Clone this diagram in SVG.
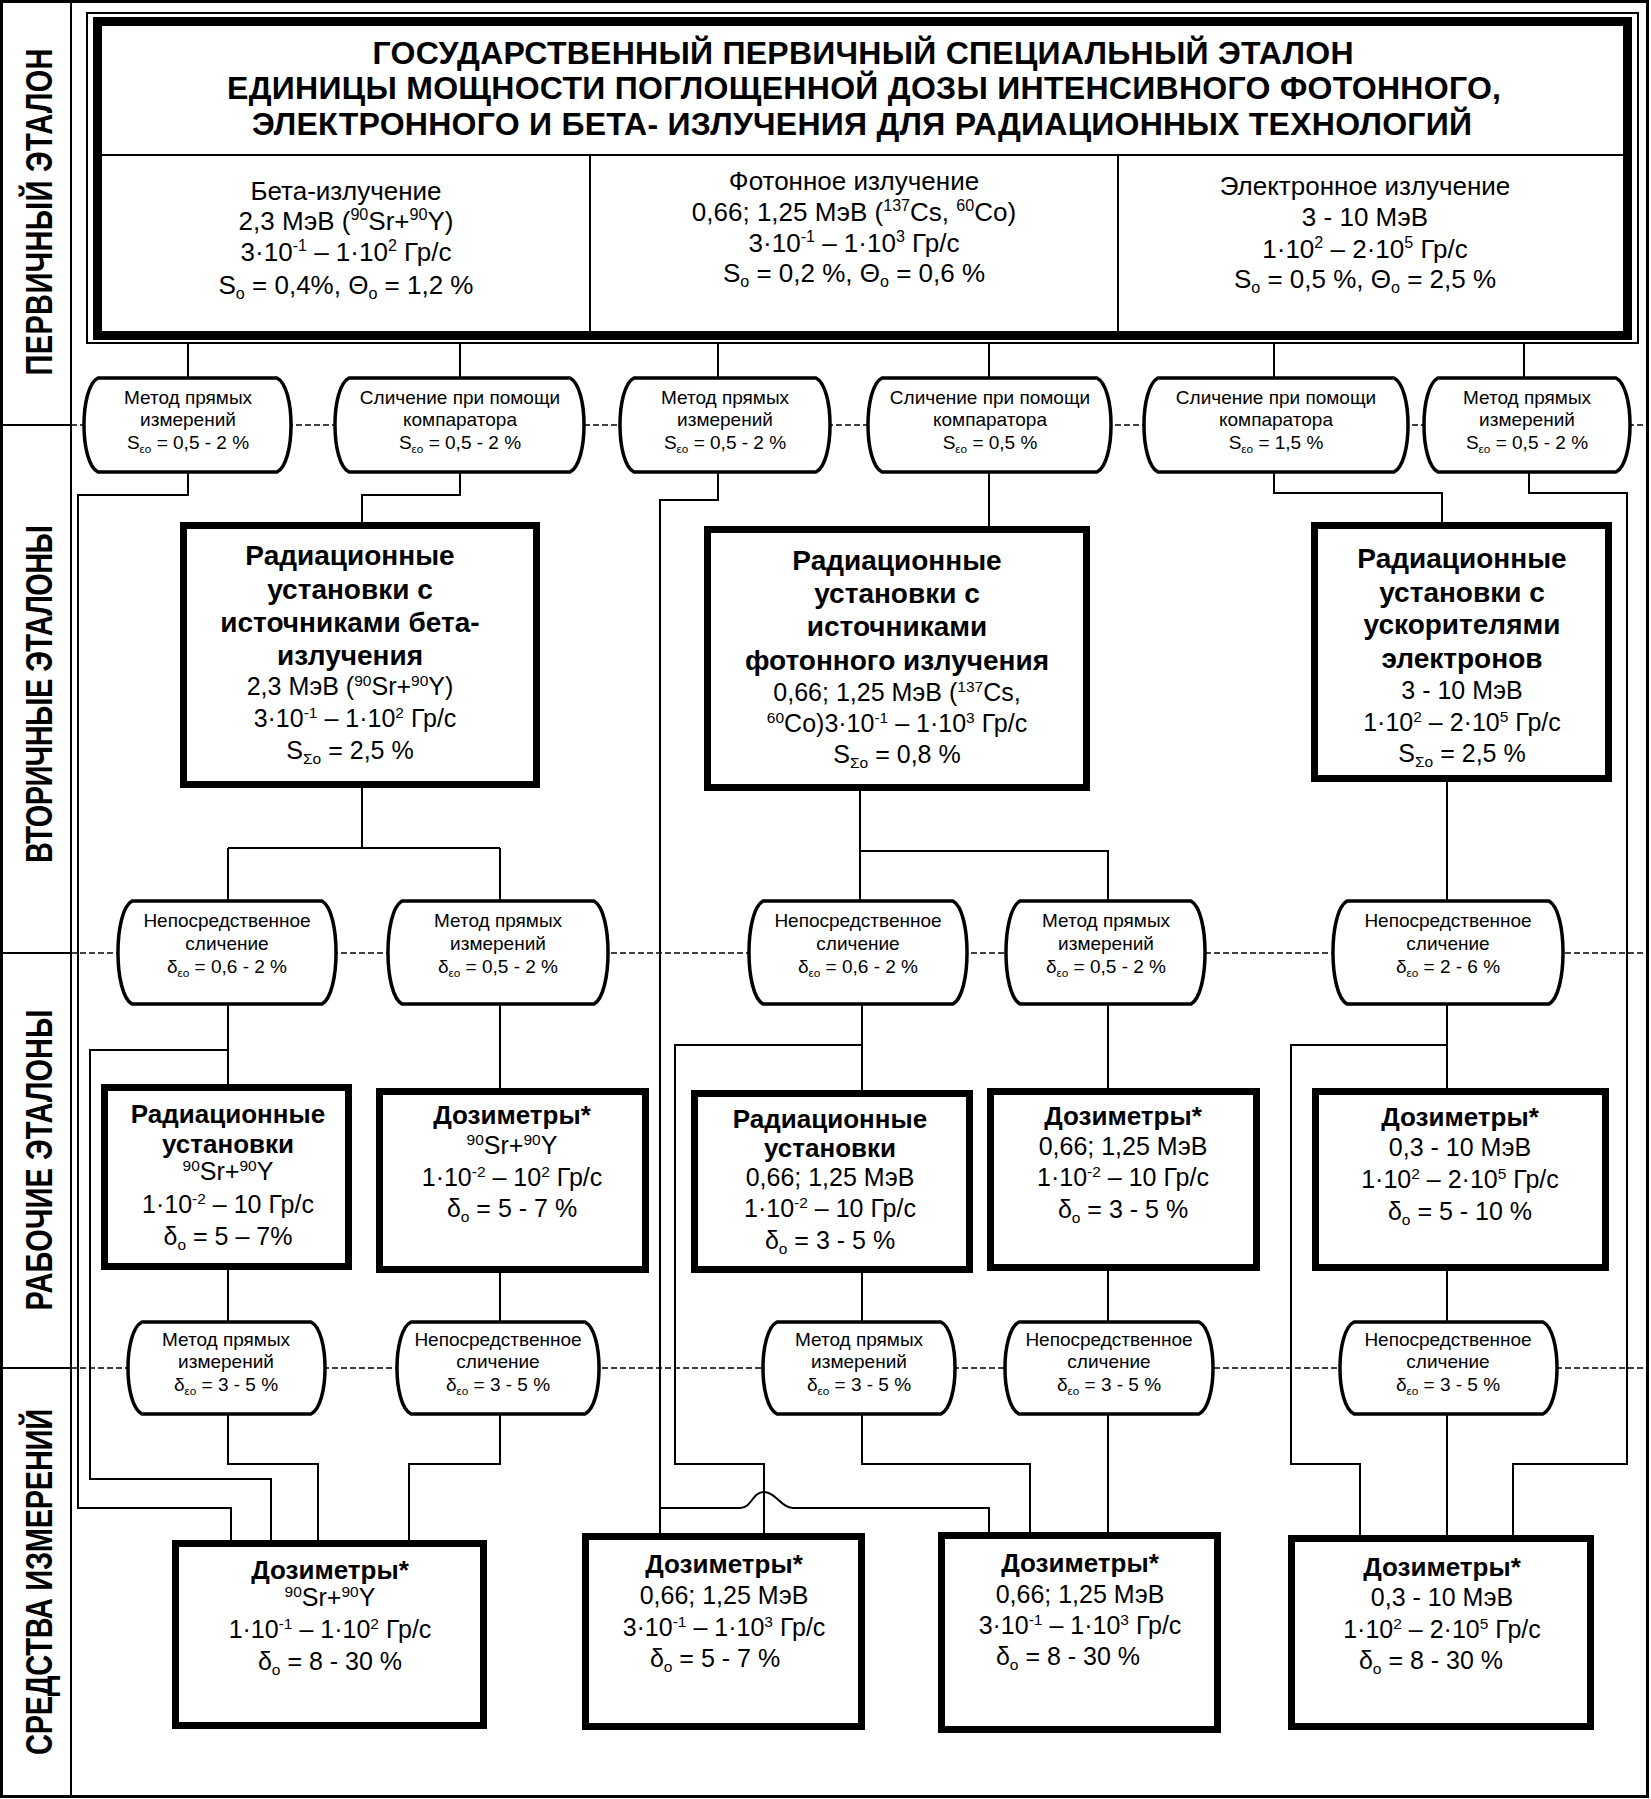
<svg xmlns="http://www.w3.org/2000/svg" width="1651" height="1799" viewBox="0 0 1651 1799">
<style>
text{font-family:"Liberation Sans",Arial,sans-serif;fill:#000}
.c{text-anchor:middle}
.b{font-weight:bold}
.tt{font-size:32px;font-weight:bold;text-anchor:middle}
.ln{font-size:29px;font-weight:bold;text-anchor:middle}
.col{font-size:26px;text-anchor:middle}
.o{font-size:19px;text-anchor:middle}
.h1{font-size:28px;font-weight:bold;text-anchor:middle}
.h2{font-size:26px;font-weight:bold;text-anchor:middle}
.r{font-size:25px;text-anchor:middle}
.sup{font-size:62%;baseline-shift:0.6em}
.sub{font-size:62%;baseline-shift:-0.3em}
.box{fill:#fff;stroke:#000;stroke-width:7}
.ov{fill:#fff;stroke:#000;stroke-width:3.5;stroke-linejoin:round}
.cn{fill:none;stroke:#000;stroke-width:2}
.lane{stroke:#000;stroke-width:1.5;stroke-dasharray:6 3}
.fr{fill:none;stroke:#000}
</style>

<g id="frame">
<rect class="fr" x="1.5" y="1.5" width="1646" height="1795" stroke-width="3"/>
<line x1="71" y1="0" x2="71" y2="1797" stroke="#000" stroke-width="2"/>
<line x1="0" y1="425" x2="71" y2="425" stroke="#000" stroke-width="2"/>
<line x1="0" y1="953" x2="71" y2="953" stroke="#000" stroke-width="2"/>
<line x1="0" y1="1368" x2="71" y2="1368" stroke="#000" stroke-width="2"/>
<line class="lane" x1="71" y1="425" x2="1647" y2="425"/>
<line class="lane" x1="71" y1="953" x2="1647" y2="953"/>
<line class="lane" x1="71" y1="1368" x2="1647" y2="1368"/>
<text class="ln" transform="translate(52,212) rotate(-90) scale(1,1.3)" textLength="327">ПЕРВИЧНЫЙ ЭТАЛОН</text>
<text class="ln" transform="translate(52,694) rotate(-90) scale(1,1.3)" textLength="338">ВТОРИЧНЫЕ ЭТАЛОНЫ</text>
<text class="ln" transform="translate(52,1160) rotate(-90) scale(1,1.3)" textLength="301">РАБОЧИЕ ЭТАЛОНЫ</text>
<text class="ln" transform="translate(52,1582) rotate(-90) scale(1,1.3)" textLength="346">СРЕДСТВА ИЗМЕРЕНИЙ</text>
</g>

<g id="connectors" class="cn">
<path d="M188 343V378M460 343V378M718 343V378M989 343V378M1274 343V378M1524 343V378"/>
<path d="M188 472V495H78V1508H231V1540"/>
<path d="M460 472V495H362V522"/>
<path d="M718 472V500H660V1533"/>
<path d="M660 1508H740C752 1508 752 1492 764 1492C776 1492 781 1508 793 1508H989V1533"/>
<path d="M989 472V526"/>
<path d="M1274 472V493H1442V522"/>
<path d="M1529 472V493H1627V1464H1513V1535"/>
<path d="M362 788V848M228 848H500M228 848V901M500 848V901"/>
<path d="M860 791V851H1108V901M860 851V901"/>
<path d="M1447 782V901"/>
<path d="M228 1004V1084M228 1050H90V1479H271V1540"/>
<path d="M500 1004V1088"/>
<path d="M862 1004V1090M862 1045H675V1464H764V1533"/>
<path d="M1108 1004V1088"/>
<path d="M1447 1004V1088M1447 1045H1291V1464H1360V1535"/>
<path d="M228 1270V1322M500 1273V1322M862 1273V1322M1108 1271V1322M1447 1271V1322"/>
<path d="M228 1414V1464H318V1540"/>
<path d="M500 1414V1464H409V1540"/>
<path d="M862 1414V1464H1030V1533"/>
<path d="M1108 1414V1533"/>
<path d="M1447 1414V1535"/>
</g>

<g id="primary">
<rect x="87" y="13" width="1551" height="330" fill="#fff" stroke="#000" stroke-width="2"/>
<rect x="97.5" y="21.5" width="1530" height="314" fill="none" stroke="#000" stroke-width="9"/>
<line x1="102" y1="155" x2="1623" y2="155" stroke="#000" stroke-width="2"/>
<line x1="590" y1="155" x2="590" y2="331" stroke="#000" stroke-width="2"/>
<line x1="1118" y1="155" x2="1118" y2="331" stroke="#000" stroke-width="2"/>
<text class="tt" x="863" y="64" textLength="981">ГОСУДАРСТВЕННЫЙ ПЕРВИЧНЫЙ СПЕЦИАЛЬНЫЙ ЭТАЛОН</text>
<text class="tt" x="864" y="99" textLength="1274">ЕДИНИЦЫ МОЩНОСТИ ПОГЛОЩЕННОЙ ДОЗЫ ИНТЕНСИВНОГО ФОТОННОГО,</text>
<text class="tt" x="862" y="135" textLength="1220">ЭЛЕКТРОННОГО И БЕТА- ИЗЛУЧЕНИЯ ДЛЯ РАДИАЦИОННЫХ ТЕХНОЛОГИЙ</text>
<text class="col" x="346" y="200">Бета-излучение</text>
<text class="col" x="346" y="230">2,3 МэВ (<tspan class="sup">90</tspan>Sr+<tspan class="sup">90</tspan>Y)</text>
<text class="col" x="346" y="261">3·10<tspan class="sup">-1</tspan> – 1·10<tspan class="sup">2</tspan> Гр/с</text>
<text class="col" x="346" y="294">S<tspan class="sub">о</tspan> = 0,4%, Θ<tspan class="sub">о</tspan> = 1,2 %</text>
<text class="col" x="854" y="190">Фотонное излучение</text>
<text class="col" x="854" y="221">0,66; 1,25 МэВ (<tspan class="sup">137</tspan>Cs, <tspan class="sup">60</tspan>Co)</text>
<text class="col" x="854" y="252">3·10<tspan class="sup">-1</tspan> – 1·10<tspan class="sup">3</tspan> Гр/с</text>
<text class="col" x="854" y="282">S<tspan class="sub">о</tspan> = 0,2 %, Θ<tspan class="sub">о</tspan> = 0,6 %</text>
<text class="col" x="1365" y="195">Электронное излучение</text>
<text class="col" x="1365" y="226">3 - 10 МэВ</text>
<text class="col" x="1365" y="258">1·10<tspan class="sup">2</tspan> – 2·10<tspan class="sup">5</tspan> Гр/с</text>
<text class="col" x="1365" y="288">S<tspan class="sub">о</tspan> = 0,5 %, Θ<tspan class="sub">о</tspan> = 2,5 %</text>
</g>

<g id="m1">
<path class="ov" d="M98 378H277C295.7 387.4 295.7 462.6 277 472H98C79.3 462.6 79.3 387.4 98 378Z"/>
<text class="o" x="188" y="404">Метод прямых</text><text class="o" x="188" y="426">измерений</text>
<text class="o" x="188" y="449">S<tspan class="sub">εо</tspan> = 0,5 - 2 %</text>
</g>
<g id="m2">
<path class="ov" d="M349 378H570C588.7 387.4 588.7 462.6 570 472H349C330.3 462.6 330.3 387.4 349 378Z"/>
<text class="o" x="460" y="404">Сличение при помощи</text><text class="o" x="460" y="426">компаратора</text>
<text class="o" x="460" y="449">S<tspan class="sub">εо</tspan> = 0,5 - 2 %</text>
</g>
<g id="m3">
<path class="ov" d="M634 378H816C834.7 387.4 834.7 462.6 816 472H634C615.3 462.6 615.3 387.4 634 378Z"/>
<text class="o" x="725" y="404">Метод прямых</text><text class="o" x="725" y="426">измерений</text>
<text class="o" x="725" y="449">S<tspan class="sub">εо</tspan> = 0,5 - 2 %</text>
</g>
<g id="m4">
<path class="ov" d="M882 378H1097C1115.7 387.4 1115.7 462.6 1097 472H882C863.3 462.6 863.3 387.4 882 378Z"/>
<text class="o" x="990" y="404">Сличение при помощи</text><text class="o" x="990" y="426">компаратора</text>
<text class="o" x="990" y="449">S<tspan class="sub">εо</tspan> = 0,5 %</text>
</g>
<g id="m5">
<path class="ov" d="M1158 378H1394C1412.7 387.4 1412.7 462.6 1394 472H1158C1139.3 462.6 1139.3 387.4 1158 378Z"/>
<text class="o" x="1276" y="404">Сличение при помощи</text><text class="o" x="1276" y="426">компаратора</text>
<text class="o" x="1276" y="449">S<tspan class="sub">εо</tspan> = 1,5 %</text>
</g>
<g id="m6">
<path class="ov" d="M1438 378H1616C1634.7 387.4 1634.7 462.6 1616 472H1438C1419.3 462.6 1419.3 387.4 1438 378Z"/>
<text class="o" x="1527" y="404">Метод прямых</text><text class="o" x="1527" y="426">измерений</text>
<text class="o" x="1527" y="449">S<tspan class="sub">εо</tspan> = 0,5 - 2 %</text>
</g>

<g id="s1">
<rect class="box" x="183.5" y="525.5" width="353" height="259"/>
<text class="h1" x="350" y="565">Радиационные</text>
<text class="h1" x="350" y="599">установки с</text>
<text class="h1" x="350" y="632">источниками бета-</text>
<text class="h1" x="350" y="665">излучения</text>
<text class="r" x="350" y="695">2,3 МэВ (<tspan class="sup">90</tspan>Sr+<tspan class="sup">90</tspan>Y)</text>
<text class="r" x="355" y="727">3·10<tspan class="sup">-1</tspan> – 1·10<tspan class="sup">2</tspan> Гр/с</text>
<text class="r" x="350" y="759">S<tspan class="sub">Σо</tspan> = 2,5 %</text>
</g>
<g id="s2">
<rect class="box" x="707.5" y="529.5" width="379" height="258"/>
<text class="h1" x="897" y="570">Радиационные</text>
<text class="h1" x="897" y="603">установки с</text>
<text class="h1" x="897" y="636">источниками</text>
<text class="h1" x="897" y="670">фотонного излучения</text>
<text class="r" x="897" y="701">0,66; 1,25 МэВ (<tspan class="sup">137</tspan>Cs,</text>
<text class="r" x="897" y="732"><tspan class="sup">60</tspan>Co)3·10<tspan class="sup">-1</tspan> – 1·10<tspan class="sup">3</tspan> Гр/с</text>
<text class="r" x="897" y="763">S<tspan class="sub">Σо</tspan> = 0,8 %</text>
</g>
<g id="s3">
<rect class="box" x="1314.5" y="525.5" width="294" height="253"/>
<text class="h1" x="1462" y="568">Радиационные</text>
<text class="h1" x="1462" y="602">установки с</text>
<text class="h1" x="1462" y="634">ускорителями</text>
<text class="h1" x="1462" y="668">электронов</text>
<text class="r" x="1462" y="699">3 - 10 МэВ</text>
<text class="r" x="1462" y="731">1·10<tspan class="sup">2</tspan> – 2·10<tspan class="sup">5</tspan> Гр/с</text>
<text class="r" x="1462" y="762">S<tspan class="sub">Σо</tspan> = 2,5 %</text>
</g>

<g id="a">
<path class="ov" d="M132 901H322C340.7 911.3 340.7 993.7 322 1004H132C113.3 993.7 113.3 911.3 132 901Z"/>
<text class="o" x="227" y="927">Непосредственное</text><text class="o" x="227" y="950">сличение</text>
<text class="o" x="227" y="973">δ<tspan class="sub">εо</tspan> = 0,6 - 2 %</text>
</g>
<g id="bm">
<path class="ov" d="M402 901H594C612.7 911.3 612.7 993.7 594 1004H402C383.3 993.7 383.3 911.3 402 901Z"/>
<text class="o" x="498" y="927">Метод прямых</text><text class="o" x="498" y="950">измерений</text>
<text class="o" x="498" y="973">δ<tspan class="sub">εо</tspan> = 0,5 - 2 %</text>
</g>
<g id="cm">
<path class="ov" d="M763 901H953C971.7 911.3 971.7 993.7 953 1004H763C744.3 993.7 744.3 911.3 763 901Z"/>
<text class="o" x="858" y="927">Непосредственное</text><text class="o" x="858" y="950">сличение</text>
<text class="o" x="858" y="973">δ<tspan class="sub">εо</tspan> = 0,6 - 2 %</text>
</g>
<g id="dm">
<path class="ov" d="M1020 901H1191C1209.7 911.3 1209.7 993.7 1191 1004H1020C1001.3 993.7 1001.3 911.3 1020 901Z"/>
<text class="o" x="1106" y="927">Метод прямых</text><text class="o" x="1106" y="950">измерений</text>
<text class="o" x="1106" y="973">δ<tspan class="sub">εо</tspan> = 0,5 - 2 %</text>
</g>
<g id="em">
<path class="ov" d="M1347 901H1549C1567.7 911.3 1567.7 993.7 1549 1004H1347C1328.3 993.7 1328.3 911.3 1347 901Z"/>
<text class="o" x="1448" y="927">Непосредственное</text><text class="o" x="1448" y="950">сличение</text>
<text class="o" x="1448" y="973">δ<tspan class="sub">εо</tspan> = 2 - 6 %</text>
</g>

<g id="w1">
<rect class="box" x="104.5" y="1087.5" width="244" height="179"/>
<text class="h2" x="228" y="1123">Радиационные</text>
<text class="h2" x="228" y="1153">установки</text>
<text class="r" x="228" y="1180"><tspan class="sup">90</tspan>Sr+<tspan class="sup">90</tspan>Y</text>
<text class="r" x="228" y="1213">1·10<tspan class="sup">-2</tspan> – 10 Гр/с</text>
<text class="r" x="228" y="1245">δ<tspan class="sub">о</tspan> = 5 – 7%</text>
</g>
<g id="w2">
<rect class="box" x="379.5" y="1091.5" width="266" height="178"/>
<text class="h2" x="512" y="1124">Дозиметры*</text>
<text class="r" x="512" y="1154"><tspan class="sup">90</tspan>Sr+<tspan class="sup">90</tspan>Y</text>
<text class="r" x="512" y="1186">1·10<tspan class="sup">-2</tspan> – 10<tspan class="sup">2</tspan> Гр/с</text>
<text class="r" x="512" y="1217">δ<tspan class="sub">о</tspan> = 5 - 7 %</text>
</g>
<g id="w3">
<rect class="box" x="694.5" y="1093.5" width="275" height="176"/>
<text class="h2" x="830" y="1128">Радиационные</text>
<text class="h2" x="830" y="1157">установки</text>
<text class="r" x="830" y="1186">0,66; 1,25 МэВ</text>
<text class="r" x="830" y="1217">1·10<tspan class="sup">-2</tspan> – 10 Гр/с</text>
<text class="r" x="830" y="1249">δ<tspan class="sub">о</tspan> = 3 - 5 %</text>
</g>
<g id="w4">
<rect class="box" x="990.5" y="1091.5" width="266" height="176"/>
<text class="h2" x="1123" y="1125">Дозиметры*</text>
<text class="r" x="1123" y="1155">0,66; 1,25 МэВ</text>
<text class="r" x="1123" y="1186">1·10<tspan class="sup">-2</tspan> – 10 Гр/с</text>
<text class="r" x="1123" y="1218">δ<tspan class="sub">о</tspan> = 3 - 5 %</text>
</g>
<g id="w5">
<rect class="box" x="1315.5" y="1091.5" width="290" height="176"/>
<text class="h2" x="1460" y="1126">Дозиметры*</text>
<text class="r" x="1460" y="1156">0,3 - 10 МэВ</text>
<text class="r" x="1460" y="1188">1·10<tspan class="sup">2</tspan> – 2·10<tspan class="sup">5</tspan> Гр/с</text>
<text class="r" x="1460" y="1220">δ<tspan class="sub">о</tspan> = 5 - 10 %</text>
</g>

<g id="f1">
<path class="ov" d="M142 1322H311C329.7 1331.2 329.7 1404.8 311 1414H142C123.3 1404.8 123.3 1331.2 142 1322Z"/>
<text class="o" x="226" y="1346">Метод прямых</text><text class="o" x="226" y="1368">измерений</text>
<text class="o" x="226" y="1391">δ<tspan class="sub">εо</tspan> = 3 - 5 %</text>
</g>
<g id="f2">
<path class="ov" d="M411 1322H585C603.7 1331.2 603.7 1404.8 585 1414H411C392.3 1404.8 392.3 1331.2 411 1322Z"/>
<text class="o" x="498" y="1346">Непосредственное</text><text class="o" x="498" y="1368">сличение</text>
<text class="o" x="498" y="1391">δ<tspan class="sub">εо</tspan> = 3 - 5 %</text>
</g>
<g id="f3">
<path class="ov" d="M777 1322H941C959.7 1331.2 959.7 1404.8 941 1414H777C758.3 1404.8 758.3 1331.2 777 1322Z"/>
<text class="o" x="859" y="1346">Метод прямых</text><text class="o" x="859" y="1368">измерений</text>
<text class="o" x="859" y="1391">δ<tspan class="sub">εо</tspan> = 3 - 5 %</text>
</g>
<g id="f4">
<path class="ov" d="M1019 1322H1199C1217.7 1331.2 1217.7 1404.8 1199 1414H1019C1000.3 1404.8 1000.3 1331.2 1019 1322Z"/>
<text class="o" x="1109" y="1346">Непосредственное</text><text class="o" x="1109" y="1368">сличение</text>
<text class="o" x="1109" y="1391">δ<tspan class="sub">εо</tspan> = 3 - 5 %</text>
</g>
<g id="f5">
<path class="ov" d="M1354 1322H1543C1561.7 1331.2 1561.7 1404.8 1543 1414H1354C1335.3 1404.8 1335.3 1331.2 1354 1322Z"/>
<text class="o" x="1448" y="1346">Непосредственное</text><text class="o" x="1448" y="1368">сличение</text>
<text class="o" x="1448" y="1391">δ<tspan class="sub">εо</tspan> = 3 - 5 %</text>
</g>

<g id="d1">
<rect class="box" x="175.5" y="1543.5" width="308" height="182"/>
<text class="h2" x="330" y="1579">Дозиметры*</text>
<text class="r" x="330" y="1606"><tspan class="sup">90</tspan>Sr+<tspan class="sup">90</tspan>Y</text>
<text class="r" x="330" y="1638">1·10<tspan class="sup">-1</tspan> – 1·10<tspan class="sup">2</tspan> Гр/с</text>
<text class="r" x="330" y="1670">δ<tspan class="sub">о</tspan> = 8 - 30 %</text>
</g>
<g id="d2">
<rect class="box" x="585.5" y="1536.5" width="276" height="190"/>
<text class="h2" x="724" y="1573">Дозиметры*</text>
<text class="r" x="724" y="1604">0,66; 1,25 МэВ</text>
<text class="r" x="724" y="1636">3·10<tspan class="sup">-1</tspan> – 1·10<tspan class="sup">3</tspan> Гр/с</text>
<text class="r" x="715" y="1667">δ<tspan class="sub">о</tspan> = 5 - 7 %</text>
</g>
<g id="d3">
<rect class="box" x="941.5" y="1535.5" width="276" height="194"/>
<text class="h2" x="1080" y="1572">Дозиметры*</text>
<text class="r" x="1080" y="1603">0,66; 1,25 МэВ</text>
<text class="r" x="1080" y="1634">3·10<tspan class="sup">-1</tspan> – 1·10<tspan class="sup">3</tspan> Гр/с</text>
<text class="r" x="1068" y="1665">δ<tspan class="sub">о</tspan> = 8 - 30 %</text>
</g>
<g id="d4">
<rect class="box" x="1291.5" y="1538.5" width="299" height="188"/>
<text class="h2" x="1442" y="1576">Дозиметры*</text>
<text class="r" x="1442" y="1606">0,3 - 10 МэВ</text>
<text class="r" x="1442" y="1638">1·10<tspan class="sup">2</tspan> – 2·10<tspan class="sup">5</tspan> Гр/с</text>
<text class="r" x="1431" y="1669">δ<tspan class="sub">о</tspan> = 8 - 30 %</text>
</g>
</svg>
